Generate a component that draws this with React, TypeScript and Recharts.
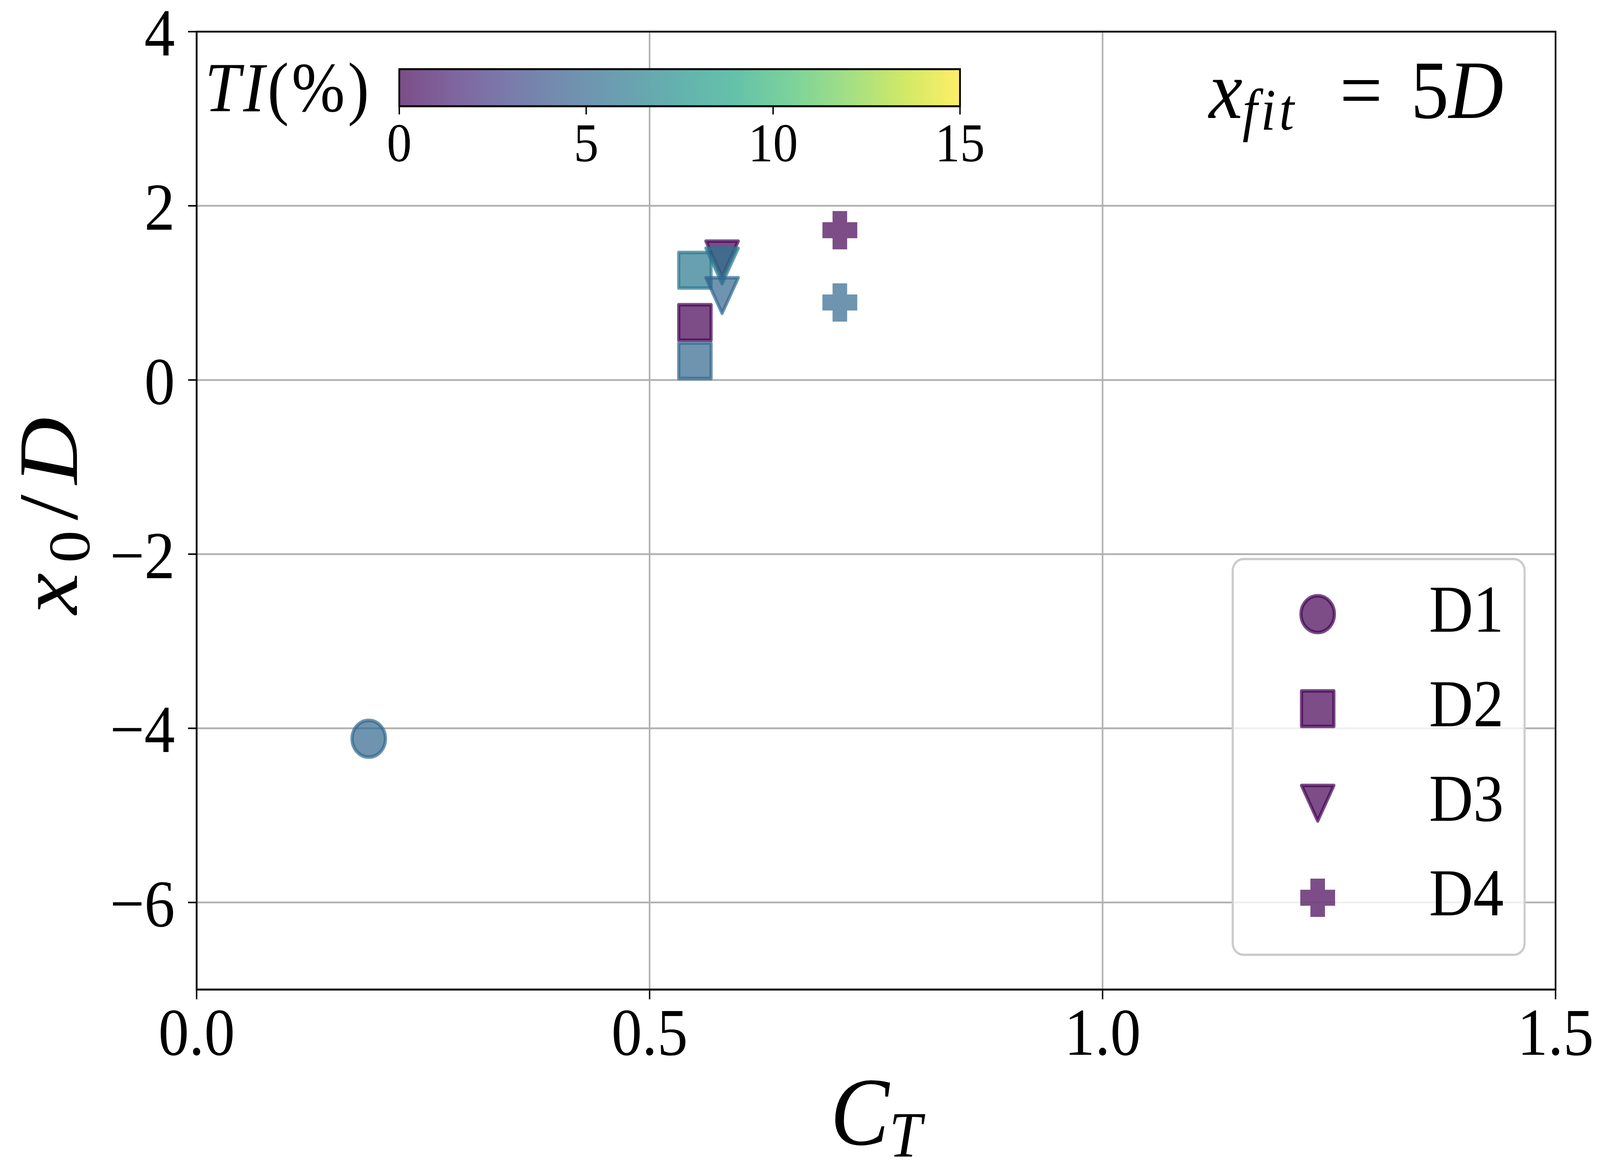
import React from 'react'
import { ScatterChart, Scatter, XAxis, YAxis, CartesianGrid, Legend } from 'recharts'

// values: C_T, x0/D and turbulence intensity per point
const SERIES_NAMES = ['D1', 'D2', 'D3', 'D4']
const D1_CT = [0.19]
const D1_X0 = [-4.12]
const D1_TI = [5]
const D2_CT = [0.55, 0.55, 0.55]
const D2_X0 = [0.66, 0.22, 1.26]
const D2_TI = [0, 5, 6]
const D3_CT = [0.58, 0.58, 0.58]
const D3_X0 = [1.39, 1.31, 0.97]
const D3_TI = [0, 6, 5]
const D4_CT = [0.71, 0.71]
const D4_X0 = [1.72, 0.89]
const D4_TI = [0, 5]

const X_TICKS = [0, 0.5, 1.0, 1.5]
const Y_TICKS = [-6, -4, -2, 0, 2, 4]
const TI_TICKS = [0, 5, 10, 15]
const TI_MAX = 15

const FONT = '"Liberation Serif", "DejaVu Serif", serif'
const ALPHA = 0.7
// the page is photographed 4096px wide, so squeeze the 4500px layout to fit
const SX = 4096 / 4500

const VIRIDIS = [
  '#440154', '#482475', '#414487', '#355f8d', '#2a788e', '#21918c',
  '#22a884', '#44bf70', '#7ad151', '#bddf26', '#fde725',
]

function hex(c: string) {
  return [1, 3, 5].map(i => parseInt(c.slice(i, i + 2), 16))
}

function viridis(t: number) {
  const v = Math.max(0, Math.min(1, t)) * (VIRIDIS.length - 1)
  const i = Math.min(Math.floor(v), VIRIDIS.length - 2)
  const f = v - i
  const a = hex(VIRIDIS[i])
  const b = hex(VIRIDIS[i + 1])
  const m = a.map((x, k) => Math.round(x + (b[k] - x) * f))
  return `rgb(${m[0]},${m[1]},${m[2]})`
}

const build = (ct: number[], x0: number[], ti: number[]) => ct.map((c, i) => ({ ct: c, x0: x0[i], ti: ti[i] }))
const SERIES = [
  { name: SERIES_NAMES[0], kind: 'circle', data: build(D1_CT, D1_X0, D1_TI) },
  { name: SERIES_NAMES[1], kind: 'square', data: build(D2_CT, D2_X0, D2_TI) },
  { name: SERIES_NAMES[2], kind: 'tri', data: build(D3_CT, D3_X0, D3_TI) },
  { name: SERIES_NAMES[3], kind: 'plus', data: build(D4_CT, D4_X0, D4_TI) },
]

function Marker({ kind, cx, cy, color }: { kind: string; cx: number; cy: number; color: string }) {
  const common = {
    fill: color, fillOpacity: ALPHA, stroke: color, strokeOpacity: ALPHA,
    strokeWidth: 9, strokeLinejoin: 'round' as const,
  }
  if (kind === 'circle') return <circle cx={cx} cy={cy} r={47} {...common} />
  if (kind === 'square') return <rect x={cx - 45.5} y={cy - 45.5} width={91} height={91} {...common} />
  if (kind === 'tri') {
    const h = 45.5
    return <path d={`M${cx - h},${cy - h}L${cx + h},${cy - h}L${cx},${cy + h}Z`} {...common} />
  }
  const a = 49
  const t = 20.5
  const d = `M${cx - t},${cy - a}H${cx + t}V${cy - t}H${cx + a}V${cy + t}H${cx + t}V${cy + a}H${cx - t}V${cy + t}H${cx - a}V${cy - t}H${cx - t}Z`
  return <path d={d} fill={color} fillOpacity={ALPHA} />
}

const fmtY = (v: number) => (v < 0 ? '\u2212' + Math.abs(v) : String(v))

function XLabel(props: any) {
  const vb = props.viewBox || { x: 553, width: 3822, y: 2533 }
  return (
    <text x={vb.x + vb.width / 2} y={2930} textAnchor="middle" fontFamily={FONT} fontSize={248} fill="#000">
      <tspan fontStyle="italic">C</tspan>
      <tspan fontStyle="italic" fontSize={165} dy={30}>T</tspan>
    </text>
  )
}

function YLabel(props: any) {
  const vb = props.viewBox || { y: 81, height: 2452 }
  const cy = vb.y + vb.height / 2
  const x = 216
  return (
    <text
      x={x} y={cy} transform={`rotate(-90 ${x} ${cy})`} textAnchor="middle"
      fontFamily={FONT} fontSize={238} fill="#000" letterSpacing={26}
    >
      <tspan fontStyle="italic">x</tspan>
      <tspan fontSize={166} dy={36}>0</tspan>
      <tspan dy={-36}>/</tspan>
      <tspan fontStyle="italic">D</tspan>
    </text>
  )
}

function LegendBox(props: any) {
  const payload = props.payload || []
  const purple = viridis(0)
  return (
    <svg width={827} height={1019} style={{ display: 'block' }}>
      <rect x={3} y={3} width={821} height={1013} rx={30} ry={30} fill="#fff" fillOpacity={0.8} stroke="#cccccc" strokeWidth={6} />
      {SERIES.map((s, i) => {
        const cy = 144 + i * 242
        const label = payload[i]?.value ?? s.name
        return (
          <g key={s.name}>
            <Marker kind={s.kind} cx={242} cy={cy} color={purple} />
            <text x={555} y={cy + 45} fontFamily={FONT} fontSize={172} fill="#000">{label}</text>
          </g>
        )
      })}
    </svg>
  )
}

function Overlay() {
  // colorbar inset, annotation and the top/right spines
  const bx = 1123
  const bw = 1577
  const by = 177
  const bh = 95
  return (
    <svg width={4500} height={3000} style={{ position: 'absolute', left: 0, top: 0, pointerEvents: 'none' }}>
      <defs>
        <linearGradient id="vir" x1="0" x2="1" y1="0" y2="0">
          {VIRIDIS.map((c, i) => (
            <stop key={i} offset={i / (VIRIDIS.length - 1)} stopColor={c} stopOpacity={ALPHA} />
          ))}
        </linearGradient>
      </defs>
      <rect x={553} y={81} width={3822} height={2452} fill="none" stroke="#000" strokeWidth={4.5} />
      <rect x={bx} y={by} width={bw} height={bh} fill="#fff" />
      <rect x={bx} y={by} width={bw} height={bh} fill="url(#vir)" stroke="#000" strokeWidth={5} />
      {TI_TICKS.map(t => {
        const x = bx + (t / TI_MAX) * bw
        return (
          <g key={t}>
            <line x1={x} x2={x} y1={by + bh} y2={by + bh + 21} stroke="#000" strokeWidth={4} />
            <text x={x} y={413} textAnchor="middle" fontFamily={FONT} fontSize={140} fill="#000">{t}</text>
          </g>
        )
      })}
      <text x={1046} y={285} textAnchor="end" fontFamily={FONT} fontSize={180} fill="#000" letterSpacing={8}>
        <tspan fontStyle="italic">TI</tspan>(%)
      </text>
      <text y={302} fontFamily={FONT} fontSize={213} fill="#000">
        <tspan x={3400} fontStyle="italic">x</tspan>
        <tspan fontStyle="italic" fontSize={150} dy={30} letterSpacing={10}>fit</tspan>
        <tspan x={3768} dy={-30}>=</tspan>
        <tspan x={3968}>5</tspan>
        <tspan fontStyle="italic">D</tspan>
      </text>
    </svg>
  )
}

export default function App() {
  return (
    <div
      style={{
        position: 'absolute', left: 0, top: 0, width: 4500, height: 3000, background: '#fff',
        transform: `scale(${SX}, 1)`, transformOrigin: '0 0',
      }}
    >
      <ScatterChart width={4500} height={3000} margin={{ top: 81, right: 125, bottom: 0, left: 0 }}>
        <CartesianGrid stroke="#b0b0b0" strokeWidth={4.5} />
        <XAxis
          type="number" dataKey="ct" domain={[0, 1.5]} ticks={X_TICKS} interval={0} allowDataOverflow
          height={467} tickSize={25} tickMargin={20}
          tickFormatter={(v: number) => v.toFixed(1)}
          tick={{ fontSize: 172, fill: '#000', fontFamily: FONT }}
          tickLine={{ stroke: '#000', strokeWidth: 4 }}
          axisLine={{ stroke: '#000', strokeWidth: 4.5 }}
          label={{ content: (p: any) => <XLabel {...p} /> }}
        />
        <YAxis
          type="number" dataKey="x0" domain={[-7, 4]} ticks={Y_TICKS} interval={0} allowDataOverflow
          width={553} tickSize={24} tickMargin={37}
          tickFormatter={fmtY}
          tick={{ fontSize: 172, fill: '#000', fontFamily: FONT }}
          tickLine={{ stroke: '#000', strokeWidth: 4 }}
          axisLine={{ stroke: '#000', strokeWidth: 4.5 }}
          label={{ content: (p: any) => <YLabel {...p} /> }}
        />
        <Legend
          layout="vertical" align="center" verticalAlign="middle"
          wrapperStyle={{ left: 3464, top: 1428, width: 827, height: 1019 }}
          content={(p: any) => <LegendBox {...p} />}
        />
        {SERIES.map(s => (
          <Scatter
            key={s.name}
            name={s.name}
            data={s.data}
            isAnimationActive={false}
            fill={viridis(0)}
            shape={(p: any) => <Marker kind={s.kind} cx={p.cx} cy={p.cy} color={viridis(p.payload.ti / TI_MAX)} />}
          />
        ))}
      </ScatterChart>
      <Overlay />
    </div>
  )
}
